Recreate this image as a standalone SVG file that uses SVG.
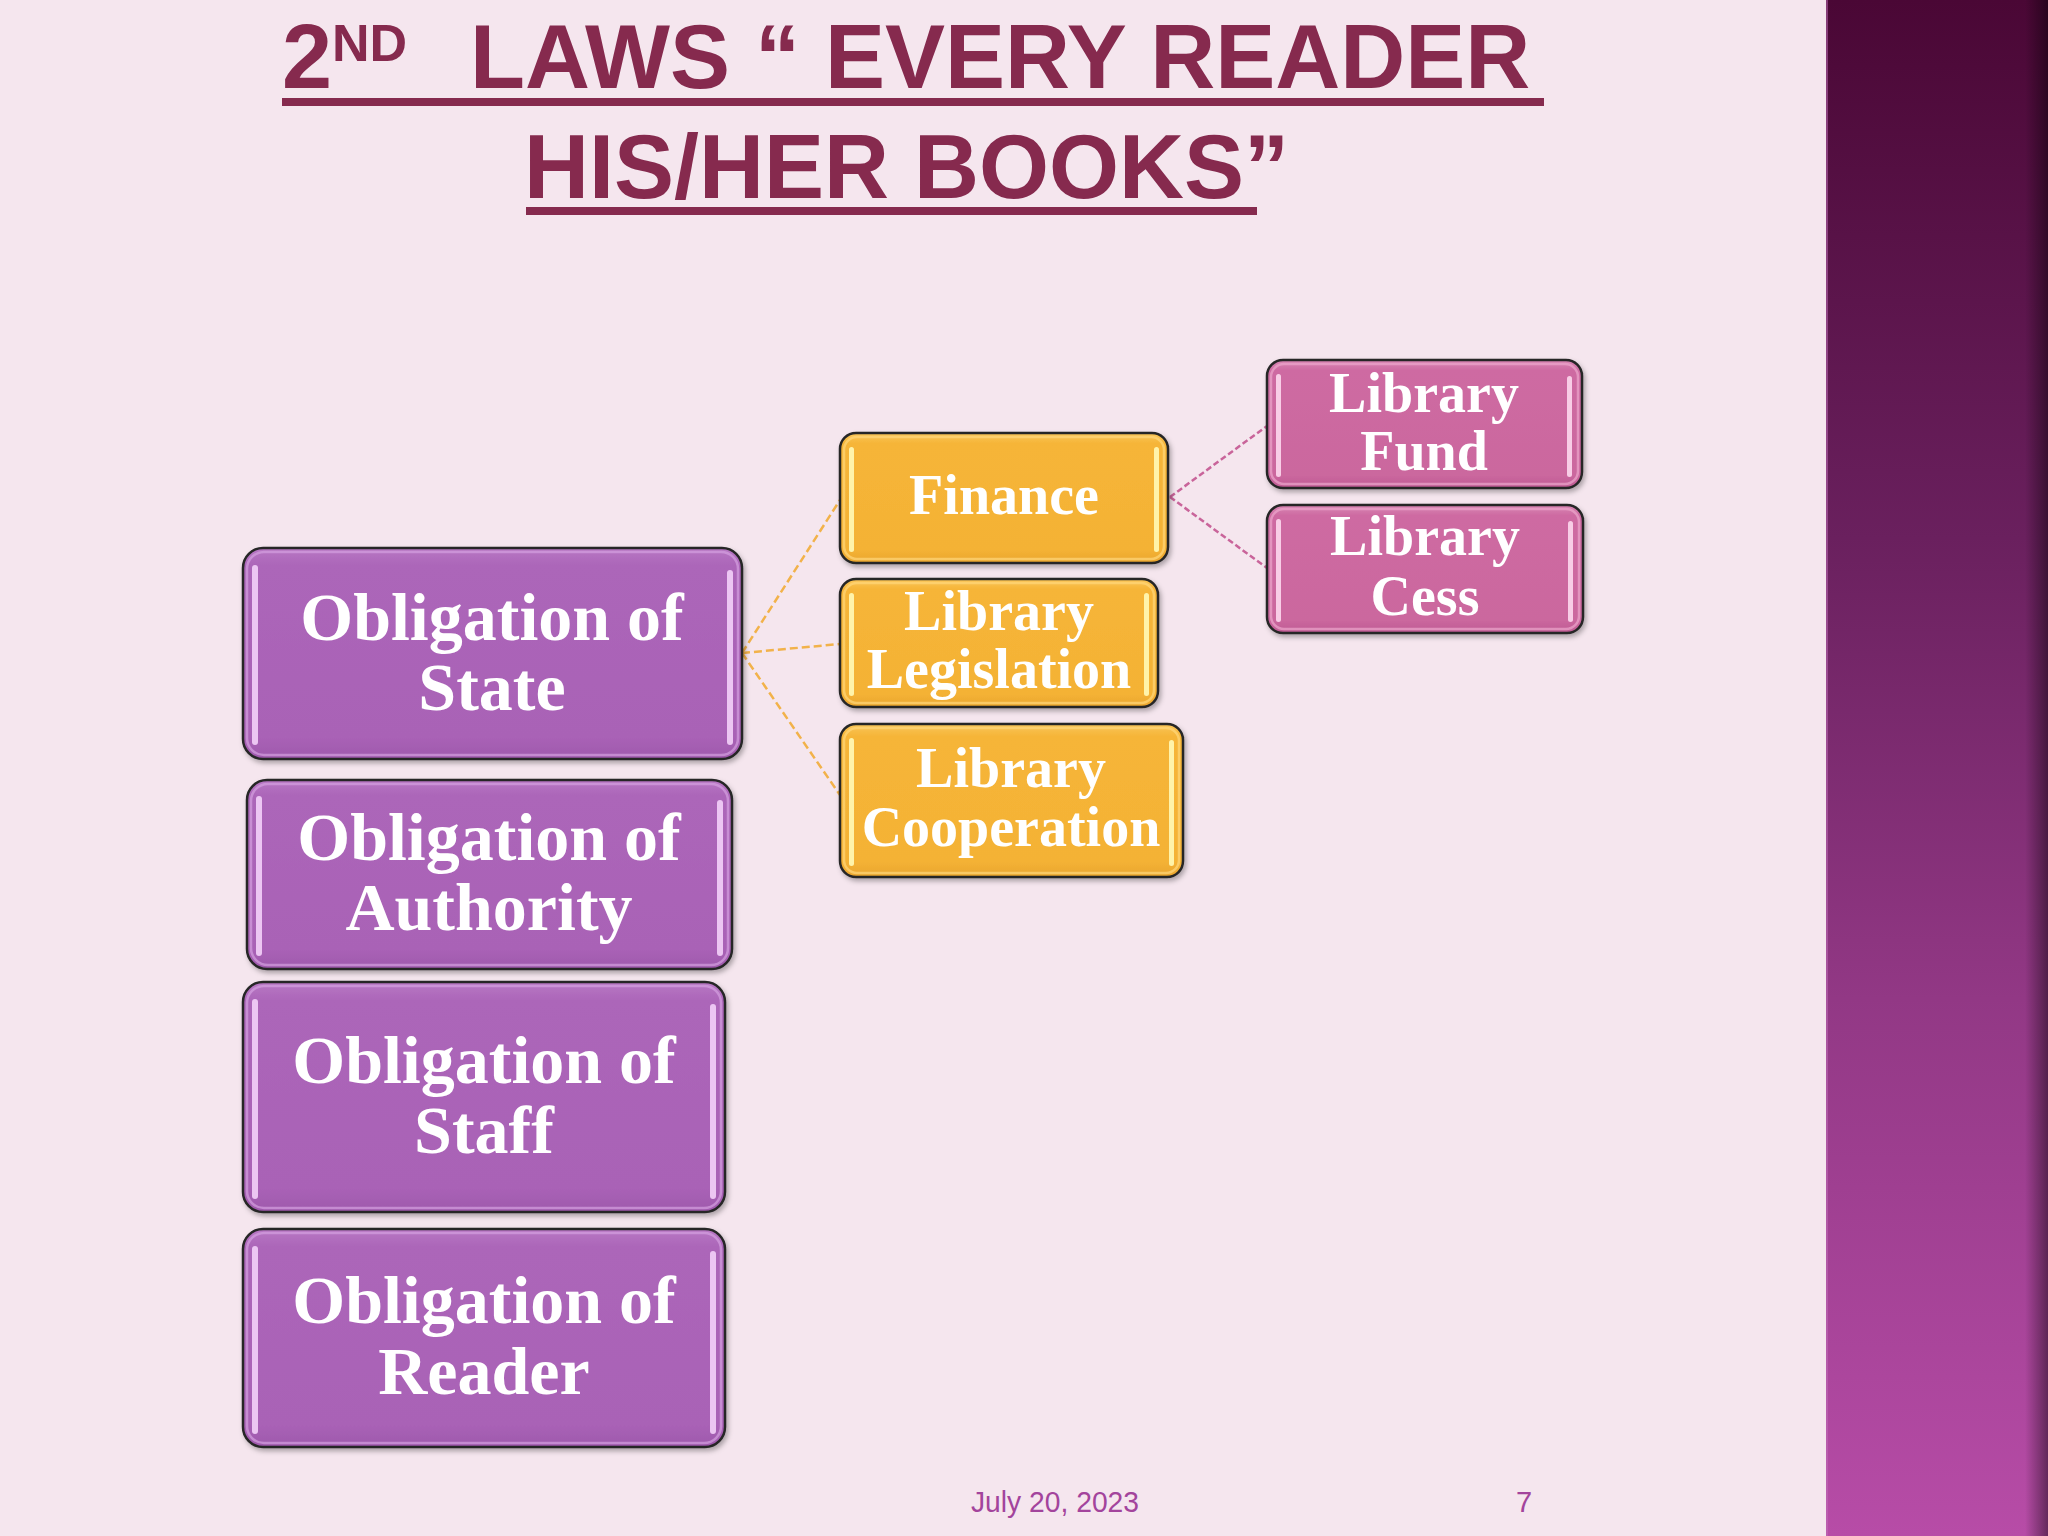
<svg xmlns="http://www.w3.org/2000/svg" width="2048" height="1536" viewBox="0 0 2048 1536">
<defs>
<style>
.title{font-family:"Liberation Sans",Arial,sans-serif;font-weight:bold;fill:#862A4E;font-size:90px}
.t{font-family:"Liberation Serif","Times New Roman",serif;font-weight:bold;fill:#FFFFFF;text-anchor:middle}
.big{font-size:68px}
.mid{font-size:56px}
.frame{stroke:#262626;stroke-width:2.5}
.p{fill:url(#gp)}
.o{fill:url(#go)}
.k{fill:url(#gk)}
.hp{fill:#EFCBF5;opacity:0.95}
.ho{fill:#FFF7B0;opacity:0.95}
.hk{fill:#FAD3EA;opacity:0.95}
.rimp{fill:none;stroke:#D4A0E0;stroke-width:2.5;opacity:0.7}
.rimo{fill:none;stroke:#FFD77A;stroke-width:2.5;opacity:0.7}
.rimk{fill:none;stroke:#EDA6CC;stroke-width:2.5;opacity:0.7}
.co{fill:none;stroke:#F2B24A;stroke-width:2.5;stroke-dasharray:8 4}
.ck{fill:none;stroke:#C9649A;stroke-width:2.5;stroke-dasharray:6 3}
.foot{font-family:"Liberation Sans",Arial,sans-serif;fill:#A3449C;font-size:29px}
</style>
<linearGradient id="gp" x1="0" y1="0" x2="0" y2="1">
<stop offset="0" stop-color="#B878C4"/><stop offset="0.08" stop-color="#AC66B9"/><stop offset="0.9" stop-color="#A962B6"/><stop offset="1" stop-color="#9E58AC"/>
</linearGradient>
<linearGradient id="go" x1="0" y1="0" x2="0" y2="1">
<stop offset="0" stop-color="#F9C65A"/><stop offset="0.08" stop-color="#F6B538"/><stop offset="0.9" stop-color="#F4B235"/><stop offset="1" stop-color="#E9A52E"/>
</linearGradient>
<linearGradient id="gk" x1="0" y1="0" x2="0" y2="1">
<stop offset="0" stop-color="#D887B4"/><stop offset="0.08" stop-color="#CE6BA2"/><stop offset="0.9" stop-color="#CB679E"/><stop offset="1" stop-color="#BE5B93"/>
</linearGradient>
<linearGradient id="side" x1="0" y1="0" x2="0" y2="1">
<stop offset="0" stop-color="#4A0735"/><stop offset="0.35" stop-color="#6A205E"/><stop offset="0.65" stop-color="#923885"/><stop offset="1" stop-color="#B74CA7"/>
</linearGradient>
<linearGradient id="edge" x1="0" y1="0" x2="1" y2="0">
<stop offset="0" stop-color="#000" stop-opacity="0"/><stop offset="1" stop-color="#000" stop-opacity="0.45"/>
</linearGradient>
<filter id="sh" x="-5%" y="-5%" width="112%" height="115%">
<feDropShadow dx="2" dy="3" stdDeviation="2.5" flood-color="#000" flood-opacity="0.3"/>
</filter>
</defs>

<rect x="0" y="0" width="2048" height="1536" fill="#F5E6EE"/>
<g id="sidebar">
<rect x="1826" y="0" width="222" height="1536" fill="url(#side)"/>
<rect x="2025" y="0" width="23" height="1536" fill="url(#edge)"/>
<rect x="1826" y="0" width="2" height="1536" fill="#C070B8" opacity="0.5"/>
</g>

<g id="title">
<text class="title" x="282" y="88">2<tspan font-size="52px" dy="-27">ND</tspan><tspan x="470" dy="27">LAWS “ EVERY READER</tspan></text>
<rect x="282" y="98" width="1262" height="8" fill="#862A4E"/>
<text class="title" x="524" y="198">HIS/HER BOOKS”</text>
<rect x="526" y="207" width="731" height="8" fill="#862A4E"/>
</g>

<g id="connectors">
<path class="co" d="M742 653 L840 500"/>
<path class="co" d="M742 653 L840 644"/>
<path class="co" d="M742 653 L840 795"/>
<path class="ck" d="M1170 497 L1267 426"/>
<path class="ck" d="M1170 497 L1267 568"/>
</g>

<g id="node-state">
<rect class="p frame" x="243" y="548" width="499" height="211" rx="20" filter="url(#sh)"/>
<rect class="rimp" x="247" y="552" width="491" height="203" rx="17"/>
<rect class="hp" x="252" y="565" width="6" height="180" rx="3"/>
<rect class="hp" x="727" y="570" width="6" height="175" rx="3"/>
<text class="t big" x="492" y="640">Obligation of</text>
<text class="t big" x="492" y="710">State</text>
</g>

<g id="node-authority">
<rect class="p frame" x="247" y="780" width="485" height="189" rx="20" filter="url(#sh)"/>
<rect class="rimp" x="251" y="784" width="477" height="181" rx="17"/>
<rect class="hp" x="256" y="796" width="6" height="160" rx="3"/>
<rect class="hp" x="717" y="800" width="6" height="156" rx="3"/>
<text class="t big" x="489" y="860">Obligation of</text>
<text class="t big" x="489" y="930">Authority</text>
</g>

<g id="node-staff">
<rect class="p frame" x="243" y="982" width="482" height="230" rx="20" filter="url(#sh)"/>
<rect class="rimp" x="247" y="986" width="474" height="222" rx="17"/>
<rect class="hp" x="252" y="999" width="6" height="200" rx="3"/>
<rect class="hp" x="710" y="1004" width="6" height="195" rx="3"/>
<text class="t big" x="484" y="1083">Obligation of</text>
<text class="t big" x="484" y="1153">Staff</text>
</g>

<g id="node-reader">
<rect class="p frame" x="243" y="1229" width="482" height="218" rx="20" filter="url(#sh)"/>
<rect class="rimp" x="247" y="1233" width="474" height="210" rx="17"/>
<rect class="hp" x="252" y="1246" width="6" height="188" rx="3"/>
<rect class="hp" x="710" y="1251" width="6" height="183" rx="3"/>
<text class="t big" x="484" y="1323">Obligation of</text>
<text class="t big" x="484" y="1394">Reader</text>
</g>

<g id="node-finance">
<rect class="o frame" x="840" y="433" width="328" height="130" rx="16" filter="url(#sh)"/>
<rect class="rimo" x="844" y="437" width="320" height="122" rx="13"/>
<rect class="ho" x="849" y="447" width="5" height="105" rx="2.5"/>
<rect class="ho" x="1154" y="447" width="5" height="105" rx="2.5"/>
<text class="t mid" x="1004" y="514">Finance</text>
</g>

<g id="node-legislation">
<rect class="o frame" x="840" y="579" width="318" height="128" rx="16" filter="url(#sh)"/>
<rect class="rimo" x="844" y="583" width="310" height="120" rx="13"/>
<rect class="ho" x="849" y="593" width="5" height="103" rx="2.5"/>
<rect class="ho" x="1144" y="593" width="5" height="103" rx="2.5"/>
<text class="t mid" x="999" y="630">Library</text>
<text class="t mid" x="999" y="688">Legislation</text>
</g>

<g id="node-cooperation">
<rect class="o frame" x="840" y="724" width="343" height="153" rx="16" filter="url(#sh)"/>
<rect class="rimo" x="844" y="728" width="335" height="145" rx="13"/>
<rect class="ho" x="849" y="738" width="5" height="128" rx="2.5"/>
<rect class="ho" x="1169" y="740" width="5" height="126" rx="2.5"/>
<text class="t mid" x="1011" y="787">Library</text>
<text class="t mid" x="1011" y="846">Cooperation</text>
</g>

<g id="node-fund">
<rect class="k frame" x="1267" y="360" width="315" height="128" rx="16" filter="url(#sh)"/>
<rect class="rimk" x="1271" y="364" width="307" height="120" rx="13"/>
<rect class="hk" x="1276" y="374" width="5" height="103" rx="2.5"/>
<rect class="hk" x="1567" y="376" width="5" height="101" rx="2.5"/>
<text class="t mid" x="1424" y="412">Library</text>
<text class="t mid" x="1424" y="470">Fund</text>
</g>

<g id="node-cess">
<rect class="k frame" x="1267" y="505" width="316" height="128" rx="16" filter="url(#sh)"/>
<rect class="rimk" x="1271" y="509" width="308" height="120" rx="13"/>
<rect class="hk" x="1276" y="519" width="5" height="103" rx="2.5"/>
<rect class="hk" x="1568" y="521" width="5" height="101" rx="2.5"/>
<text class="t mid" x="1425" y="555">Library</text>
<text class="t mid" x="1425" y="615">Cess</text>
</g>

<g id="footer">
<text class="foot" x="971" y="1512" textLength="168" lengthAdjust="spacingAndGlyphs">July 20, 2023</text>
<text class="foot" x="1516" y="1512">7</text>
</g>
</svg>
